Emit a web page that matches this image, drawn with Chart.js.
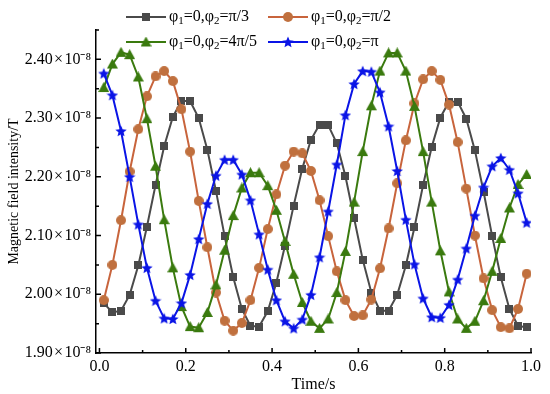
<!DOCTYPE html>
<html>
<head>
<meta charset="utf-8">
<script src="https://cdn.jsdelivr.net/npm/chart.js@4.4.1/dist/chart.umd.min.js"></script>
<style>
    html, body { margin: 0; padding: 0; background: #fff; }
    #wrap { width: 550px; height: 394px; position: relative; }
</style>
</head>
<body>
<div id="wrap"><canvas id="fieldChart"></canvas></div>
<script>
// ── Data ─────────────────────────────────────────────────────────────────
// Time samples (s)
const times = [
    0.01, 0.03, 0.05, 0.07, 0.09, 0.11, 0.13, 0.15, 0.17, 0.19,
    0.21, 0.23, 0.25, 0.27, 0.29, 0.31, 0.33, 0.35, 0.37, 0.39,
    0.41, 0.43, 0.45, 0.47, 0.49, 0.51, 0.53, 0.55, 0.57, 0.59,
    0.61, 0.63, 0.65, 0.67, 0.69, 0.71, 0.73, 0.75, 0.77, 0.79,
    0.81, 0.83, 0.85, 0.87, 0.89, 0.91, 0.93, 0.95, 0.97, 0.99
];

// Magnetic field intensity, in units of 10^-8 T
const fieldPi3 = [
    1.985, 1.969, 1.972, 1.999, 2.049, 2.115, 2.186, 2.252, 2.302, 2.329,
    2.329, 2.300, 2.246, 2.176, 2.099, 2.029, 1.975, 1.946, 1.945, 1.971,
    2.020, 2.083, 2.151, 2.214, 2.263, 2.289, 2.288, 2.257, 2.201, 2.130,
    2.059, 2.003, 1.972, 1.972, 1.999, 2.049, 2.114, 2.186, 2.251, 2.301,
    2.328, 2.328, 2.299, 2.245, 2.175, 2.099, 2.029, 1.975, 1.946, 1.944
];
const fieldPi2 = [
    1.990, 2.050, 2.126, 2.209, 2.281, 2.337, 2.371, 2.380, 2.363, 2.315,
    2.243, 2.159, 2.080, 2.003, 1.955, 1.938, 1.951, 1.990, 2.045, 2.111,
    2.170, 2.219, 2.243, 2.240, 2.210, 2.160, 2.099, 2.039, 1.990, 1.963,
    1.964, 1.991, 2.044, 2.112, 2.189, 2.262, 2.325, 2.366, 2.380, 2.365,
    2.323, 2.259, 2.180, 2.100, 2.027, 1.973, 1.944, 1.942, 1.975, 2.035
];
const field4Pi5 = [
    2.352, 2.392, 2.412, 2.408, 2.370, 2.299, 2.218, 2.127, 2.045, 1.979,
    1.945, 1.943, 1.969, 2.016, 2.075, 2.134, 2.181, 2.207, 2.207, 2.185,
    2.143, 2.090, 2.034, 1.986, 1.954, 1.942, 1.958, 2.003, 2.073, 2.157,
    2.243, 2.321, 2.380, 2.411, 2.411, 2.380, 2.320, 2.243, 2.157, 2.074,
    2.004, 1.958, 1.942, 1.954, 1.989, 2.039, 2.095, 2.147, 2.187, 2.204
];
const fieldPi = [
    2.376, 2.339, 2.278, 2.200, 2.119, 2.045, 1.989, 1.959, 1.958, 1.985,
    2.033, 2.094, 2.154, 2.202, 2.229, 2.229, 2.204, 2.160, 2.102, 2.042,
    1.990, 1.954, 1.942, 1.957, 1.999, 2.063, 2.141, 2.221, 2.305, 2.358,
    2.380, 2.379, 2.344, 2.286, 2.210, 2.127, 2.051, 1.993, 1.961, 1.960,
    1.982, 2.025, 2.078, 2.134, 2.182, 2.218, 2.232, 2.212, 2.172, 2.122
];

// φ2 values shown in the legend
const phi2Labels = ['π/3', 'π/2', '4π/5', 'π'];

// Axis ticks
const xTicks = [0.0, 0.2, 0.4, 0.6, 0.8, 1.0];
const xMinorTicks = [0.1, 0.3, 0.5, 0.7, 0.9];
const yTicks = [1.90, 2.00, 2.10, 2.20, 2.30, 2.40];
const yMinorTicks = [1.95, 2.05, 2.15, 2.25, 2.35, 2.45];

// ── Markers ──────────────────────────────────────────────────────────────
function makeMarker(shape, fill, size) {
    const c = document.createElement('canvas');
    c.width = size; c.height = size;
    const g = c.getContext('2d');
    const h = size / 2;
    g.fillStyle = fill;
    g.beginPath();
    if (shape === 'square') {
        g.rect(0, 0, size, size);
    } else if (shape === 'circle') {
        g.arc(h, h, h, 0, Math.PI * 2);
    } else if (shape === 'triangle') {
        g.moveTo(h, 0);
        g.lineTo(size, size - 1);
        g.lineTo(0, size - 1);
    } else if (shape === 'star') {
        for (let i = 0; i < 10; i++) {
            const r = i % 2 ? h * 0.45 : h;
            const a = -Math.PI / 2 + i * Math.PI / 5;
            g.lineTo(h + r * Math.cos(a), h + 0.5 + r * Math.sin(a));
        }
    }
    g.closePath();
    g.fill();
    return c;
}

const series = [
    { values: fieldPi3,  line: '#4a4a4a', marker: makeMarker('square',   '#4a4a4a', 8),  order: 3 },
    { values: fieldPi2,  line: '#c8643c', marker: makeMarker('circle',   '#c0703e', 10), order: 2 },
    { values: field4Pi5, line: '#3a7a0e', marker: makeMarker('triangle', '#3a7a0e', 11), order: 1 },
    { values: fieldPi,   line: '#0a14e6', marker: makeMarker('star',     '#0a14e6', 12), order: 0 }
];

// ── Plugins ──────────────────────────────────────────────────────────────
const SERIF = '"Liberation Serif", "Times New Roman", serif';

// inward tick marks, like the Origin original
const innerTicks = {
    id: 'innerTicks',
    afterDraw(chart) {
        const { ctx, scales: { x, y }, chartArea: a } = chart;
        ctx.save();
        ctx.strokeStyle = '#000';
        ctx.lineWidth = 1.5;
        ctx.beginPath();
        xTicks.forEach(v => { const px = x.getPixelForValue(v); ctx.moveTo(px, a.bottom); ctx.lineTo(px, a.bottom - 5); });
        xMinorTicks.forEach(v => { const px = x.getPixelForValue(v); ctx.moveTo(px, a.bottom); ctx.lineTo(px, a.bottom - 3); });
        yTicks.forEach(v => { const py = y.getPixelForValue(v); ctx.moveTo(a.left, py); ctx.lineTo(a.left + 5, py); });
        yMinorTicks.forEach(v => { const py = y.getPixelForValue(v); ctx.moveTo(a.left, py); ctx.lineTo(a.left + 3, py); });
        ctx.stroke();
        ctx.restore();
    }
};

// legend: line + marker, label with subscripts
function drawLabel(ctx, x, y, phi2) {
    const parts = [['φ', 0], ['1', 1], ['=0,φ', 0], ['2', 1], ['=' + phi2, 0]];
    ctx.textBaseline = 'middle';
    ctx.textAlign = 'left';
    ctx.fillStyle = '#000';
    parts.forEach(([t, sub]) => {
        ctx.font = (sub ? '11px ' : '16px ') + SERIF;
        ctx.fillText(t, x, y + (sub ? 4 : 0));
        x += ctx.measureText(t).width;
    });
}

const seriesLegend = {
    id: 'seriesLegend',
    afterDraw(chart) {
        const ctx = chart.ctx;
        const cols = [126, 268];
        const rows = [17, 42];
        ctx.save();
        series.forEach((s, i) => {
            const x0 = cols[i % 2];
            const y0 = rows[Math.floor(i / 2)];
            ctx.strokeStyle = s.line;
            ctx.lineWidth = 2;
            ctx.beginPath();
            ctx.moveTo(x0, y0);
            ctx.lineTo(x0 + 40, y0);
            ctx.stroke();
            ctx.drawImage(s.marker, x0 + 20 - s.marker.width / 2, y0 - s.marker.height / 2);
            drawLabel(ctx, x0 + 43, y0, phi2Labels[i]);
        });
        ctx.restore();
    }
};

// ── Chart ────────────────────────────────────────────────────────────────
const tickFont = { family: SERIF, size: 16 };

new Chart(document.getElementById('fieldChart').getContext('2d'), {
    type: 'line',
    data: {
        datasets: series.map((s, i) => ({
            label: 'φ1=0,φ2=' + phi2Labels[i],
            data: times.map((t, k) => ({ x: t, y: s.values[k] })),
            borderColor: s.line,
            backgroundColor: s.line,
            borderWidth: 2,
            pointStyle: s.marker,
            pointRadius: 5,
            tension: 0,
            order: s.order
        }))
    },
    options: {
        responsive: true,
        maintainAspectRatio: false,
        animation: false,
        layout: { padding: { left: 0, right: 19, top: 30, bottom: 0 } },
        plugins: { legend: { display: false }, tooltip: { enabled: false } },
        scales: {
            x: {
                type: 'linear',
                min: -0.008,
                max: 1.0,
                bounds: 'data',
                afterBuildTicks: sc => { sc.ticks = xTicks.map(v => ({ value: v })); },
                afterFit: sc => { sc.height = 41; },
                grid: { display: false, drawTicks: false },
                border: { color: '#000', width: 1.5 },
                ticks: {
                    font: tickFont, color: '#000', padding: 4, maxRotation: 0,
                    callback: v => Number(v).toFixed(1)
                },
                title: {
                    display: true, text: 'Time/s', color: '#000',
                    font: tickFont, padding: { top: 0, bottom: 0 }
                }
            },
            y: {
                min: 1.9,
                max: 2.45,
                bounds: 'data',
                afterBuildTicks: sc => { sc.ticks = yTicks.map(v => ({ value: v })); },
                afterFit: sc => { sc.width = 96; },
                grid: { display: false, drawTicks: false },
                border: { color: '#000', width: 1.5 },
                ticks: {
                    font: tickFont, color: '#000', padding: 5,
                    callback: v => Number(v).toFixed(2) + '\u200a×\u200a10⁻⁸'
                },
                title: {
                    display: true, text: 'Magnetic field intensity/T', color: '#000',
                    font: { family: SERIF, size: 14 }, padding: { top: 6, bottom: 0 }
                }
            }
        }
    },
    plugins: [innerTicks, seriesLegend]
});
</script>
</body>
</html>
